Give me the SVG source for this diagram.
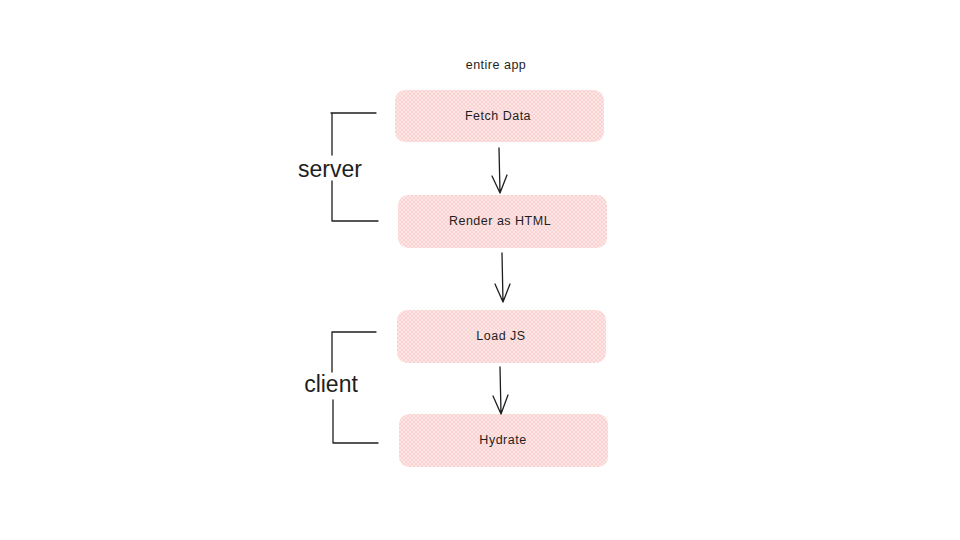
<svg xmlns="http://www.w3.org/2000/svg" width="960" height="540" viewBox="0 0 960 540">
<style>
.box{fill:url(#hatch);stroke:none}
.lbl{font-family:"Liberation Sans","DejaVu Sans",sans-serif;font-size:12.5px;fill:#1e1e1e;text-anchor:middle;dominant-baseline:central;letter-spacing:0.5px}
.big{font-family:"Liberation Sans","DejaVu Sans",sans-serif;font-size:23px;fill:#1e1e1e;text-anchor:middle;dominant-baseline:central}
.ln{fill:none;stroke:#1e1e1e;stroke-width:1.3;stroke-linecap:round;stroke-linejoin:round}
</style>
<defs>
<pattern id="hatch" width="4" height="4" patternUnits="userSpaceOnUse">
<rect width="4" height="4" fill="#fde6e6"/>
<path d="M0 4L4 0M0 0L4 4" stroke="#fbcaca" stroke-width="0.7"/>
</pattern>
</defs>
<rect width="960" height="540" fill="#ffffff"/>
<text class="lbl" x="496" y="65">entire app</text>
<g id="fetch"><rect class="box" x="395" y="90" width="209" height="52" rx="10"/><text class="lbl" x="498" y="116">Fetch Data</text></g>
<g id="render"><rect class="box" x="398" y="195" width="209" height="53" rx="10"/><text class="lbl" x="500" y="221">Render as HTML</text></g>
<g id="load"><rect class="box" x="397" y="310" width="209" height="53" rx="10"/><text class="lbl" x="501" y="336">Load JS</text></g>
<g id="hydrate"><rect class="box" x="399" y="414" width="209" height="53" rx="10"/><text class="lbl" x="503" y="440">Hydrate</text></g>
<g id="server"><path class="ln" d="M331 113H376M332 113V155M332 181V221M332 221H378"/><text class="big" x="330" y="169">server</text></g>
<g id="client"><path class="ln" d="M332 332H376M332 332V372M333 400V443M333 443H378"/><text class="big" x="331" y="384">client</text></g>
<g id="connectors">
<path class="ln" d="M499 148L500 193M492 176L500 193L507 175"/>
<path class="ln" d="M502 253L503 302M495 284L503 302L510 284"/>
<path class="ln" d="M500 367L501 414M493 396L501 414L508 395"/>
</g>
</svg>
